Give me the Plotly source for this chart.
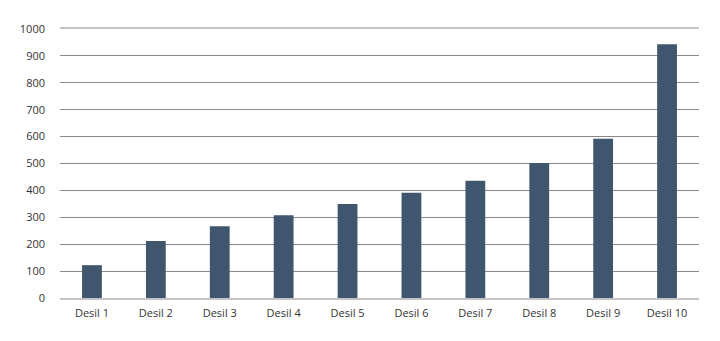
import plotly.graph_objects as go

categories = ["Desil 1", "Desil 2", "Desil 3", "Desil 4", "Desil 5",
              "Desil 6", "Desil 7", "Desil 8", "Desil 9", "Desil 10"]
values = [122, 212, 267, 308, 349, 391, 436, 502, 592, 943]
y_ticks = [0, 100, 200, 300, 400, 500, 600, 700, 800, 900, 1000]

fig = go.Figure(go.Bar(x=categories, y=values, marker=dict(color="#3f566e", line=dict(width=0))))

fig.update_layout(
    width=720, height=341,
    margin=dict(l=60, r=21, t=29, b=43),
    paper_bgcolor="white", plot_bgcolor="white",
    bargap=0.69,
    showlegend=False,
    font=dict(family="Open Sans", size=11, color="#333333"),
)
fig.update_xaxes(
    showgrid=False, showline=True, mirror=True, linecolor="#c4c4c4", linewidth=2,
    ticks="", tickfont=dict(size=11), ticklabelstandoff=4,
)
fig.update_yaxes(
    range=[0, 1000], tickvals=y_ticks, showgrid=True, gridcolor="#8a8a8a", gridwidth=1,
    zeroline=False, showline=False, ticks="", ticklabelstandoff=14,
    tickfont=dict(size=11),
)
fig.write_html("out.html")
